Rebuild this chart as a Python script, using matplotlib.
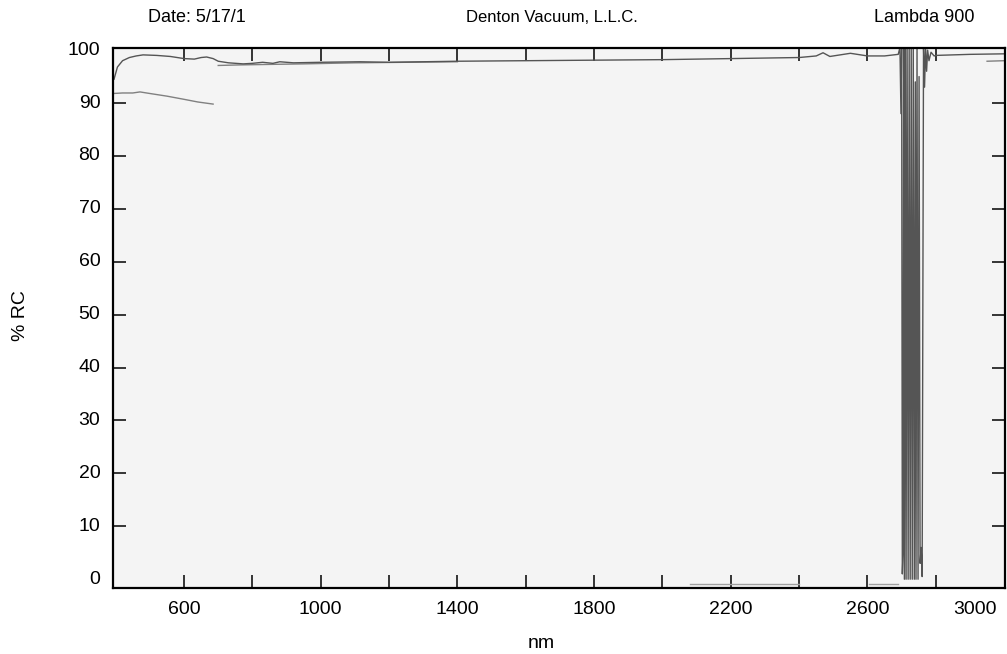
import matplotlib
matplotlib.use("Agg")
import matplotlib.pyplot as plt
import numpy as np

plt.rcParams['font.family'] = ['Liberation Sans', 'DejaVu Sans']

# main scan, % RC vs wavelength (nm)
nm_a = [395, 405, 420, 440, 460, 480, 520, 560, 600, 630, 650, 666, 685, 700, 730, 773,
        800, 830, 860, 880, 920, 1000, 1115, 1200, 1400, 1600, 1800, 2000, 2200, 2400,
        2450, 2470, 2490, 2520, 2550, 2600, 2650, 2690,
        2695, 2698, 2700, 2702, 2704, 2706, 2708, 2711, 2713, 2716, 2719, 2722, 2725,
        2728, 2731, 2734, 2737, 2740, 2742, 2745, 2748, 2751, 2754, 2757, 2760, 2764,
        2767, 2770, 2773, 2776, 2780, 2786, 2795, 2800, 2900, 3000]
rc_a = [94.5, 96.8, 98.0, 98.6, 98.9, 99.1, 99.0, 98.8, 98.4, 98.3, 98.6, 98.7, 98.4, 97.9, 97.6, 97.4,
        97.5, 97.7, 97.5, 97.8, 97.6, 97.7, 97.8, 97.7, 97.9, 98.0, 98.1, 98.2, 98.4, 98.6,
        98.9, 99.5, 98.8, 99.1, 99.4, 98.9, 98.9, 99.2,
        100.5, 88, 100.5, 1, 5, 100.5, 0, 100.5, 0, 100.5, 0, 100.5, 0,
        100.5, 0, 100.5, 0, 94, 0, 100.5, 0, 95, 3, 6, 0.5, 100.5,
        93, 100.5, 96, 100, 98, 99.6, 98.9, 99.0, 99.2, 99.3]

# second scan
nm_b = [392, 420, 450, 471, 500, 550, 600, 640, 685, np.nan, 700, 760, 850, 950, 1100, 1250, 1400,
        np.nan, 2950, 3000]
rc_b = [91.8, 91.9, 91.9, 92.1, 91.8, 91.3, 90.7, 90.2, 89.8, np.nan, 97.1, 97.2, 97.3, 97.4, 97.6, 97.7, 97.8,
        np.nan, 97.9, 98.0]

# trace sitting on the zero line
nm_c = [2080, 2300, 2400, np.nan, 2605, 2690]
rc_c = [-0.9, -0.9, -0.9, np.nan, -0.9, -0.9]

x_ticks = [600, 800, 1000, 1200, 1400, 1600, 1800, 2000, 2200, 2400, 2600, 2800]
x_labels = [600, 1000, 1400, 1800, 2200, 2600, 3000]
y_ticks = [10, 20, 30, 40, 50, 60, 70, 80, 90]
y_labels = [0, 10, 20, 30, 40, 50, 60, 70, 80, 90, 100]

fig = plt.figure(figsize=(10.07, 6.54), dpi=100)
ax = fig.add_axes([0.1122, 0.1014, 0.886, 0.8252])
ax.set_facecolor('#f4f4f4')

ax.plot(nm_c, rc_c, color='#a0a0a0', lw=1.0)
ax.plot(nm_b, rc_b, color='#808080', lw=1.0)
ax.plot(nm_a, rc_a, color='#555555', lw=1.0)

ax.set_xlim(392, 3003)
ax.set_ylim(-1.6, 100.4)

ax.set_xticks(x_ticks)
ax.set_xticklabels([])
ax.set_yticks(y_ticks)
ax.set_yticklabels([])
ax.tick_params(direction='in', length=9.5, width=1.1, color='black',
               top=True, right=True, bottom=True, left=True)
for s in ax.spines.values():
    s.set_linewidth(1.6)

# tick labels drawn as text so the 3000 label can sit inside the frame
for v in x_labels:
    xv = v
    if v == 3000:
        xv = 2915
    ax.text(xv, -4.2, str(v), ha='center', va='top', fontsize=14)
for v in y_labels:
    ax.text(355, v, str(v), ha='right', va='center', fontsize=14)

fig.text(0.02, 0.517, '% RC', rotation=90, ha='center', va='center', fontsize=14)
fig.text(0.537, 0.016, 'nm', ha='center', va='center', fontsize=14)

fig.text(0.147, 0.973, 'Date: 5/17/1', ha='left', va='center', fontsize=13)
fig.text(0.548, 0.973, 'Denton Vacuum, L.L.C.', ha='center', va='center', fontsize=12)
fig.text(0.918, 0.973, 'Lambda 900', ha='center', va='center', fontsize=13)

fig.savefig('out.png', dpi=100)
